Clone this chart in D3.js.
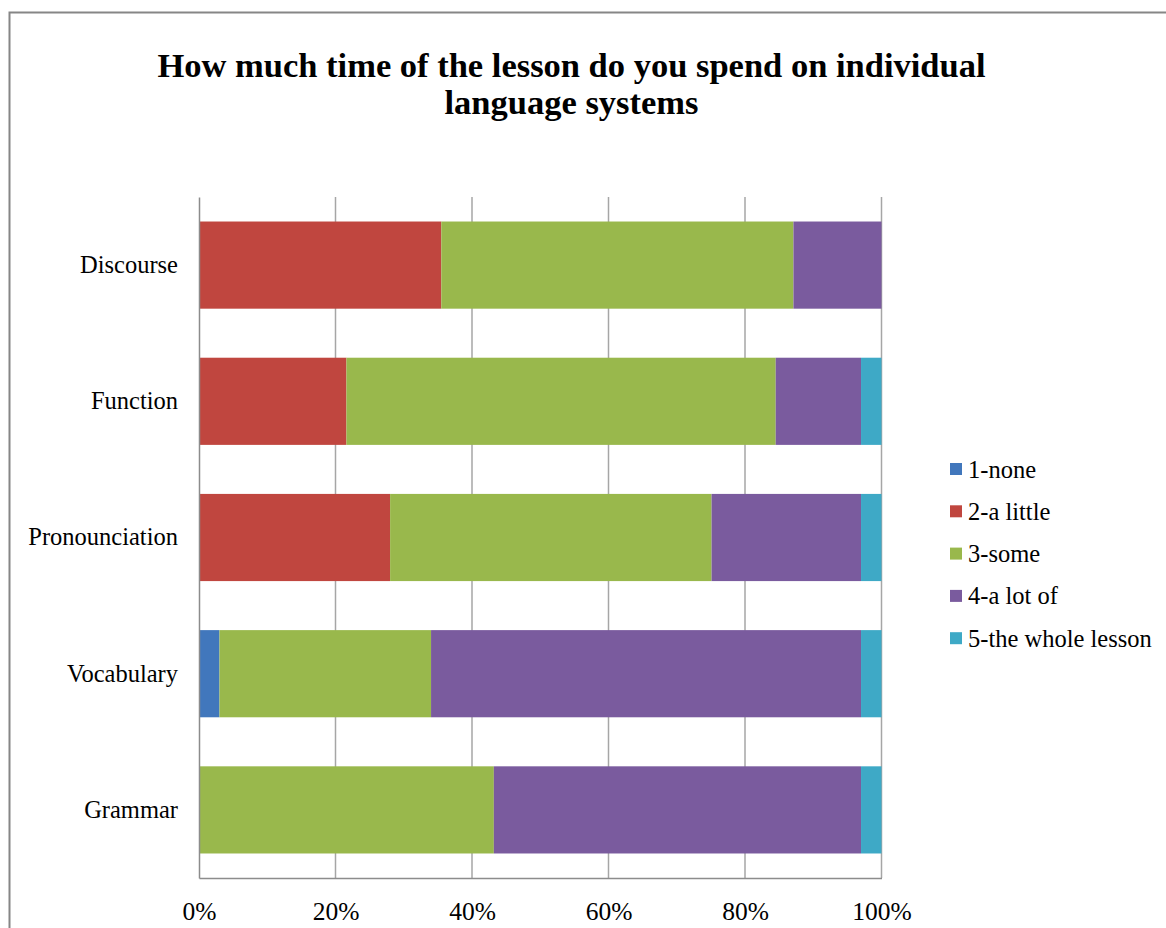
<!DOCTYPE html>
<html><head><meta charset="utf-8">
<script src="https://cdn.jsdelivr.net/npm/d3@7"></script>
<style>html,body{margin:0;padding:0;background:#fff;}svg{display:block;}</style>
</head><body>
<script>
const categories = ["Discourse", "Function", "Pronounciation", "Vocabulary", "Grammar"];
const seriesNames = ["1-none", "2-a little", "3-some", "4-a lot of", "5-the whole lesson"];
const none      = [0,    0,    0,    3.0,  0];
const aLittle   = [35.5, 21.6, 28.0, 0,    0];
const some      = [51.6, 62.9, 47.1, 31.0, 43.2];
const aLotOf    = [12.9, 12.5, 21.9, 63.0, 53.8];
const wholeLesson = [0,  3.0,  3.0,  3.0,  3.0];
const tickValues = [0, 20, 40, 60, 80, 100];
const colors = ["#4177bc", "#c0463f", "#99b84c", "#7a5b9e", "#3ea9c6"];
const titleLines = ["How much time of the lesson do you spend on individual", "language systems"];

(function () {
const W = 1166, H = 928;
const svg = d3.select("body").append("svg").attr("width", W).attr("height", H);
svg.append("rect").attr("width", W).attr("height", H).attr("fill", "#fff");
svg.append("rect").attr("x", 9.5).attr("y", 12.5).attr("width", W + 10).attr("height", H + 10)
  .attr("fill", "none").attr("stroke", "#868686").attr("stroke-width", 2);

const serif = "'Liberation Serif','Times New Roman',serif";

svg.append("text").attr("text-anchor", "middle")
  .attr("font-family", serif).attr("font-weight", "bold").attr("font-size", 34.5)
  .selectAll("tspan").data(titleLines).join("tspan")
  .attr("x", 571.5).attr("y", (d, i) => 77 + i * 37).text(d => d);

const pLeft = 199, pRight = 881.5, pTop = 197, pBottom = 878;
const x = d3.scaleLinear().domain([0, 100]).range([pLeft, pRight]);
const y = d3.scaleBand().domain(categories).range([pTop, pBottom]).paddingInner(0.36).paddingOuter(0.18);

svg.append("g").selectAll("line").data(tickValues.slice(1)).join("line")
  .attr("x1", d => x(d)).attr("x2", d => x(d)).attr("y1", pTop).attr("y2", pBottom)
  .attr("stroke", "#a6a6a6").attr("stroke-width", 1.5);

const stackData = categories.map((c, i) => {
  const vals = [none[i], aLittle[i], some[i], aLotOf[i], wholeLesson[i]];
  const o = {cat: c};
  seriesNames.forEach((s, j) => o[s] = vals[j]);
  return o;
});
const stacked = d3.stack().keys(seriesNames)(stackData);

svg.append("g").selectAll("g").data(stacked).join("g")
  .attr("fill", (d, i) => colors[i])
  .selectAll("rect").data(d => d.filter(p => p[1] - p[0] > 0)).join("rect")
  .attr("x", d => x(d[0])).attr("width", d => x(d[1]) - x(d[0]))
  .attr("y", d => y(d.data.cat)).attr("height", y.bandwidth());

const xAxis = d3.axisBottom(x).tickValues(tickValues).tickFormat(d => d + "%").tickSize(0).tickPadding(24);
const gx = svg.append("g").attr("transform", `translate(0,${pBottom})`).call(xAxis);
gx.select(".domain").attr("stroke", "#8c8c8c").attr("stroke-width", 1.5);
gx.selectAll("text").attr("font-family", serif).attr("font-size", 25.5).attr("fill", "#000");

const yAxis = d3.axisLeft(y).tickSize(0).tickPadding(21);
const gy = svg.append("g").attr("transform", `translate(${pLeft},0)`).call(yAxis);
gy.select(".domain").attr("stroke", "#8c8c8c").attr("stroke-width", 1.5);
gy.selectAll("text").attr("font-family", serif).attr("font-size", 24.5).attr("fill", "#000");

const lg = svg.append("g").selectAll("g").data(seriesNames).join("g")
  .attr("transform", (d, i) => `translate(950,${469 + i * 42.3})`);
lg.append("rect").attr("x", 0).attr("y", -6).attr("width", 12).attr("height", 12).attr("fill", (d, i) => colors[i]);
lg.append("text").attr("x", 18).attr("y", 0).attr("dy", "0.35em")
  .attr("font-family", serif).attr("font-size", 24.5).attr("fill", "#000").text(d => d);
})();
</script>
</body></html>
